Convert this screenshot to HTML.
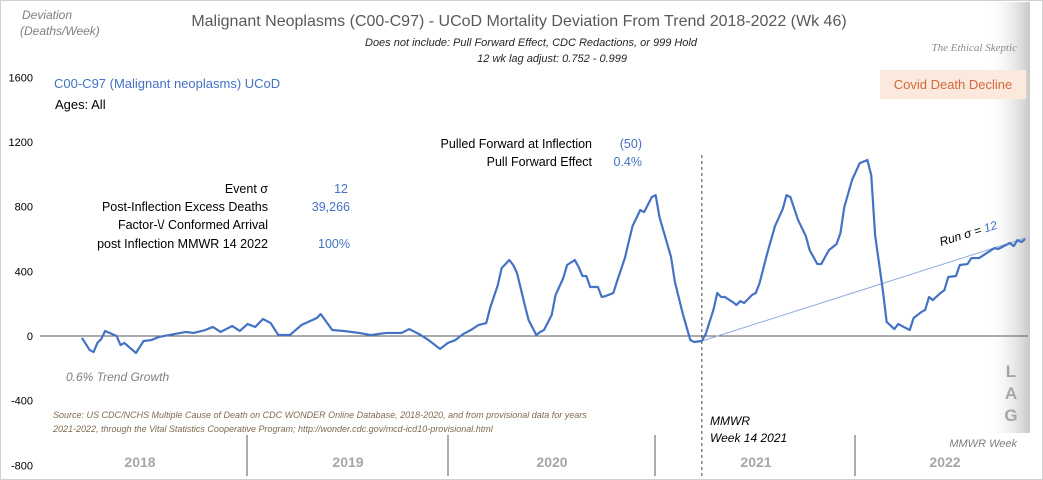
<!DOCTYPE html>
<html><head><meta charset="utf-8"><style>
body{margin:0;background:#fff}
svg{display:block;font-family:"Liberation Sans",sans-serif}
</style></head><body>
<svg id="c" width="1043" height="480" xmlns="http://www.w3.org/2000/svg">
<defs><linearGradient id="lag" x1="0" x2="1" y1="0" y2="0"><stop offset="0" stop-color="#fff" stop-opacity="0"/><stop offset="1" stop-color="#c8c8c8"/></linearGradient></defs>
<rect x="0.5" y="0.5" width="1042" height="479" fill="#fff" stroke="#d0d0d0"/>
<rect x="985" y="2" width="45" height="431" fill="url(#lag)"/>
<g fill="#a6a6a6" font-weight="bold" font-size="17" text-anchor="middle"><text x="1011" y="377">L</text><text x="1011" y="399">A</text><text x="1011" y="421">G</text></g>
<text x="22" y="19" font-size="12" font-style="italic" fill="#7f7f7f"><tspan x="22">Deviation</tspan><tspan x="20" dy="16">(Deaths/Week)</tspan></text>
<text x="519" y="26" font-size="16" fill="#595959" text-anchor="middle">Malignant Neoplasms (C00-C97) - UCoD Mortality Deviation From Trend  2018-2022 (Wk 46)</text>
<text x="697" y="46" font-size="11" font-style="italic" fill="#262626" text-anchor="end">Does not include: Pull Forward Effect,  CDC Redactions, or 999 Hold</text>
<text x="627" y="62" font-size="11" font-style="italic" fill="#262626" text-anchor="end">12 wk lag adjust: 0.752 - 0.999</text>
<text x="1017" y="51" font-size="11" font-style="italic" fill="#8a8a8a" font-family="Liberation Serif,serif" text-anchor="end">The Ethical Skeptic</text>
<rect x="880" y="70" width="146" height="29" fill="#fbe9dd"/>
<text x="953" y="89" font-size="13" fill="#d06a3a" text-anchor="middle">Covid Death Decline</text>
<text x="54" y="88" font-size="13" fill="#4472c4">C00-C97 (Malignant neoplasms) UCoD</text>
<text x="55" y="109" font-size="13" fill="#000">Ages: All</text>
<g font-size="12.5">
<text x="592" y="148" text-anchor="end" fill="#000">Pulled Forward at Inflection</text><text x="642" y="148" text-anchor="end" fill="#4472c4">(50)</text>
<text x="592" y="166" text-anchor="end" fill="#000">Pull Forward Effect</text><text x="642" y="166" text-anchor="end" fill="#4472c4">0.4%</text>
<text x="268" y="193" text-anchor="end" fill="#000">Event σ</text><text x="348" y="193" text-anchor="end" fill="#4472c4">12</text>
<text x="268" y="211" text-anchor="end" fill="#000">Post-Inflection Excess Deaths</text><text x="350" y="211" text-anchor="end" fill="#4472c4">39,266</text>
<text x="268" y="229" text-anchor="end" fill="#000">Factor-\/ Conformed Arrival</text>
<text x="268" y="248" text-anchor="end" fill="#000">post Inflection MMWR 14 2022</text><text x="350" y="248" text-anchor="end" fill="#4472c4">100%</text>
</g>
<text x="66" y="381" font-size="12" font-style="italic" fill="#7f7f7f">0.6% Trend Growth</text>
<text x="53" y="418" font-size="9" font-style="italic" fill="#7f6a4f"><tspan x="53">Source: US CDC/NCHS Multiple Cause of Death on CDC WONDER Online Database, 2018-2020, and from provisional data for years</tspan><tspan x="53" dy="14">2021-2022, through the Vital Statistics Cooperative Program; http://wonder.cdc.gov/mcd-icd10-provisional.html</tspan></text>
<text x="710" y="425" font-size="12" font-style="italic" fill="#000"><tspan x="710">MMWR</tspan><tspan x="710" dy="17">Week 14 2021</tspan></text>
<text x="1017" y="447" font-size="11" font-style="italic" fill="#7f7f7f" text-anchor="end">MMWR Week</text>
<text x="941" y="246" font-size="12" font-style="italic" fill="#000" transform="rotate(-17 941 246)">Run σ = <tspan fill="#4472c4">12</tspan></text>
<g id="plot"></g>
</svg>
<script>
const weeks=[0,2,3,4,5,6,9,10,11,14,16,18,20,24,27,29,32,34,36,39,41,43,45,47,49,51,54,57,61,62,65,68,72,75,79,83,85,88,90,93,95,97,99,101,103,105,106,108,109,111,112,113,115,116,118,119,120,122,123,125,126,128,129,130,131,132,134,135,136,138,139,141,143,145,146,148,149,150,153,154,156,158,159,161,162,163,164,165,166,167,169,170,171,172,174,175,176,178,180,182,183,184,186,188,189,191,192,194,196,197,198,200,202,204,205,206,208,209,211,212,214,215,216,218,219,220,221,223,224,225,227,228,230,231,233,235,237,238,241,242,243,244,245];
const values=[-12,-87,-99,-43,-19,31,0,-56,-43,-105,-31,-25,-6,12,25,19,37,56,25,62,31,74,56,105,80,6,6,68,111,136,37,31,19,6,19,19,43,6,-25,-80,-43,-25,12,37,68,80,173,315,420,470,439,389,192,99,6,25,37,130,253,358,439,470,426,371,371,303,303,241,247,266,340,482,680,779,766,859,871,735,488,334,142,-25,-37,-31,12,87,161,266,241,241,210,192,216,204,253,266,328,513,680,785,871,859,717,618,531,445,445,531,569,637,797,964,1069,1088,995,624,284,87,43,74,49,37,111,148,161,241,222,266,284,365,371,439,445,482,482,513,544,538,575,556,593,581,600];
const trendWeeks=[161,245];
const trendValues=[-31,606];
const yTicks=[1600,1200,800,400,0,-400,-800];
const years=["2018","2019","2020","2021","2022"];
const yearBounds=[247,448,655,855];
const yearCenters=[140,348,552,756,945];
const inflectionWeek=161;
const ns="http://www.w3.org/2000/svg";
const X=w=>82+w*3.85;
const Y=v=>336-v*0.1617;
const g=document.getElementById('plot');
function el(t,a){const e=document.createElementNS(ns,t);for(const k in a)e.setAttribute(k,a[k]);g.appendChild(e);return e;}
yTicks.forEach(t=>{const e=el('text',{x:33,y:Y(t)+4,'font-size':11,fill:'#000','text-anchor':'end'});e.textContent=t;

});
const z=el('line',{x1:40,x2:1028,y1:Y(0),y2:Y(0),stroke:'#595959','stroke-width':1});


yearBounds.forEach(x=>{const e=el('line',{x1:x,x2:x,y1:435,y2:476,stroke:'#595959'});

});
years.forEach((y,i)=>{const e=el('text',{x:yearCenters[i],y:467,'font-size':14,'font-weight':'bold',fill:'#a6a6a6','text-anchor':'middle'});e.textContent=y;

});
const iv=el('line',{x1:X(inflectionWeek),x2:X(inflectionWeek),y1:155,y2:476,stroke:'#404040','stroke-dasharray':'3,3'});


const tl=el('line',{x1:X(trendWeeks[0]),y1:Y(trendValues[0]),x2:X(trendWeeks[1]),y2:Y(trendValues[1]),stroke:'#8eaadb','stroke-width':1});


const p=el('polyline',{points:weeks.map((w,i)=>X(w)+','+Y(values[i])).join(' '),fill:'none',stroke:'#4472c4','stroke-width':2.2,'stroke-linejoin':'round'});


</script>
</body></html>
